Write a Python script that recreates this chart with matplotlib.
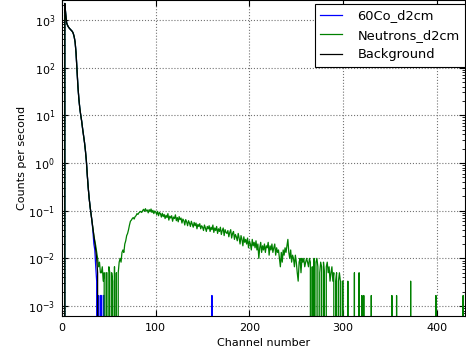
import numpy as np
import matplotlib
matplotlib.use('Agg')
import matplotlib.pyplot as plt

# spectra were recorded for 600 s live time, values are raw counts per channel
live_time = 600.0
n_channels = 430

# channels 0..38, the low-energy part that all three runs share
background_counts = [0, 0, 0, 1320000, 780000, 510000, 456000, 420000, 396000, 378000,
                     360000, 342000, 312000, 264000, 204000, 120000, 54000, 24000, 13200, 8400,
                     6000, 4500, 3120, 2280, 1620, 1080, 660, 330, 180, 108,
                     72, 51, 36, 25, 18, 13, 9, 6, 3]

# 60Co run: follows background, then a few single counts
co60_counts = [0, 0, 0, 1320000, 780000, 510000, 456000, 420000, 396000, 378000,
               360000, 342000, 312000, 264000, 204000, 120000, 54000, 24000, 13200, 8400,
               6000, 4500, 3120, 2280, 1620, 1080, 660, 330, 180, 108,
               72, 51, 36, 22, 12, 9, 4, 2, 0, 1,
               0, 1, 1, 0, 1, 1, 0]
co60_spike_ch = [160]
co60_spike_counts = [1]

# neutron run, channels 0..300
neutron_counts = [0, 0, 0, 1320000, 780000, 510000, 456000, 420000, 396000, 378000,
                  360000, 342000, 312000, 264000, 204000, 120000, 54000, 24000, 13200, 8400,
                  6000, 4500, 3120, 2280, 1620, 1080, 660, 330, 180, 108,
                  72, 51, 36, 25, 18, 14, 11,
                  8, 6, 4, 5, 3, 3, 4, 2, 3, 0,
                  3, 3, 0, 4, 3, 0, 3, 2, 0, 4,
                  0, 3, 0, 3, 5, 6, 5, 8, 9, 8,
                  12, 14, 18, 20, 24, 30, 36, 38, 41, 43,
                  40, 45, 47, 52, 50, 54, 56, 58, 55, 60,
                  64, 58, 66, 59, 62, 54, 63, 57, 65, 55,
                  61, 52, 59, 56, 50, 58, 47, 55, 52, 44,
                  53, 45, 50, 41, 48, 43, 52, 38, 46, 42,
                  47, 36, 44, 41, 49, 37, 43, 35, 45, 39,
                  42, 33, 40, 37, 30, 39, 35, 29, 37, 33,
                  28, 36, 31, 27, 34, 29, 33, 25, 31, 28,
                  32, 25, 29, 27, 23, 30, 26, 22, 28, 25,
                  29, 22, 27, 24, 30, 21, 26, 23, 28, 20,
                  25, 22, 27, 19, 23, 26, 18, 24, 21, 20,
                  23, 17, 21, 24, 16, 20, 22, 15, 19, 17,
                  14, 20, 16, 12, 18, 15, 11, 17, 13, 15,
                  12, 16, 10, 14, 12, 9, 15, 11, 13, 10,
                  14, 9, 12, 6, 10, 13, 8, 11, 9, 12,
                  8, 11, 10, 13, 7, 11, 9, 12, 8, 10,
                  12, 7, 10, 8, 9, 6, 4, 8, 5, 9,
                  7, 10, 8, 11, 15, 8, 6, 9, 5, 7,
                  6, 4, 7, 5, 3, 2, 5, 6, 3, 6,
                  5, 6, 4, 5, 6, 5, 4, 6, 5, 0,
                  4, 0, 6, 0, 5, 6, 4, 0, 3, 5,
                  4, 0, 5, 3, 0, 4, 5, 3, 4, 2,
                  3, 4, 2, 3, 0, 2, 3, 0, 2, 3,
                  2, 0, 2, 2]
neutron_spike_ch = [305, 312, 317, 320, 322, 330, 352, 357, 372, 399, 428]
neutron_spike_counts = [2, 3, 3, 1, 1, 1, 1, 1, 2, 1, 1]


def to_spectrum(counts, spike_ch=(), spike_counts=()):
    spec = np.zeros(n_channels)
    spec[:len(counts)] = counts
    for c, v in zip(spike_ch, spike_counts):
        spec[c] = v
    return spec / live_time


channels = np.arange(n_channels)
co60 = to_spectrum(co60_counts, co60_spike_ch, co60_spike_counts)
neutrons = to_spectrum(neutron_counts, neutron_spike_ch, neutron_spike_counts)
background = to_spectrum(background_counts)

plt.rcParams['xtick.direction'] = 'in'
plt.rcParams['ytick.direction'] = 'in'
plt.rcParams['xtick.top'] = True
plt.rcParams['ytick.right'] = True
plt.rcParams['xtick.major.size'] = 4
plt.rcParams['ytick.major.size'] = 4
plt.rcParams['xtick.minor.size'] = 2
plt.rcParams['ytick.minor.size'] = 2
plt.rcParams['xtick.major.pad'] = 5
plt.rcParams['ytick.major.pad'] = 5

fig = plt.figure(figsize=(4.66, 3.54), dpi=100)
ax = fig.add_axes([62/466, 38/354, 403/466, 316/354])

ax.plot(channels, co60, color='b', lw=0.9, label='60Co_d2cm')
ax.plot(channels, neutrons, color='g', lw=0.9, label='Neutrons_d2cm')
ax.plot(channels, background, color='k', lw=0.9, label='Background')

ax.set_yscale('log')
ax.set_xlim(0, 430)
ax.set_ylim(6.2e-4, 2600)
ax.set_xticks([0, 100, 200, 300, 400])
ax.grid(True, color='0.45', linestyle=':', linewidth=0.8)
ax.set_xlabel('Channel number', fontsize=8)
ax.set_ylabel('Counts per second', fontsize=8)
ax.yaxis.set_label_coords(-0.087, 0.5)
ax.tick_params(labelsize=8)

leg = ax.legend(loc='upper right', bbox_to_anchor=(1.0, 1 - 4/316), fontsize=9.4,
                handlelength=1.65, handletextpad=1.2, fancybox=False,
                borderaxespad=0.0, framealpha=1.0)
leg.get_frame().set_edgecolor('k')
leg.get_frame().set_linewidth(0.8)

fig.savefig('out.png', dpi=100)
